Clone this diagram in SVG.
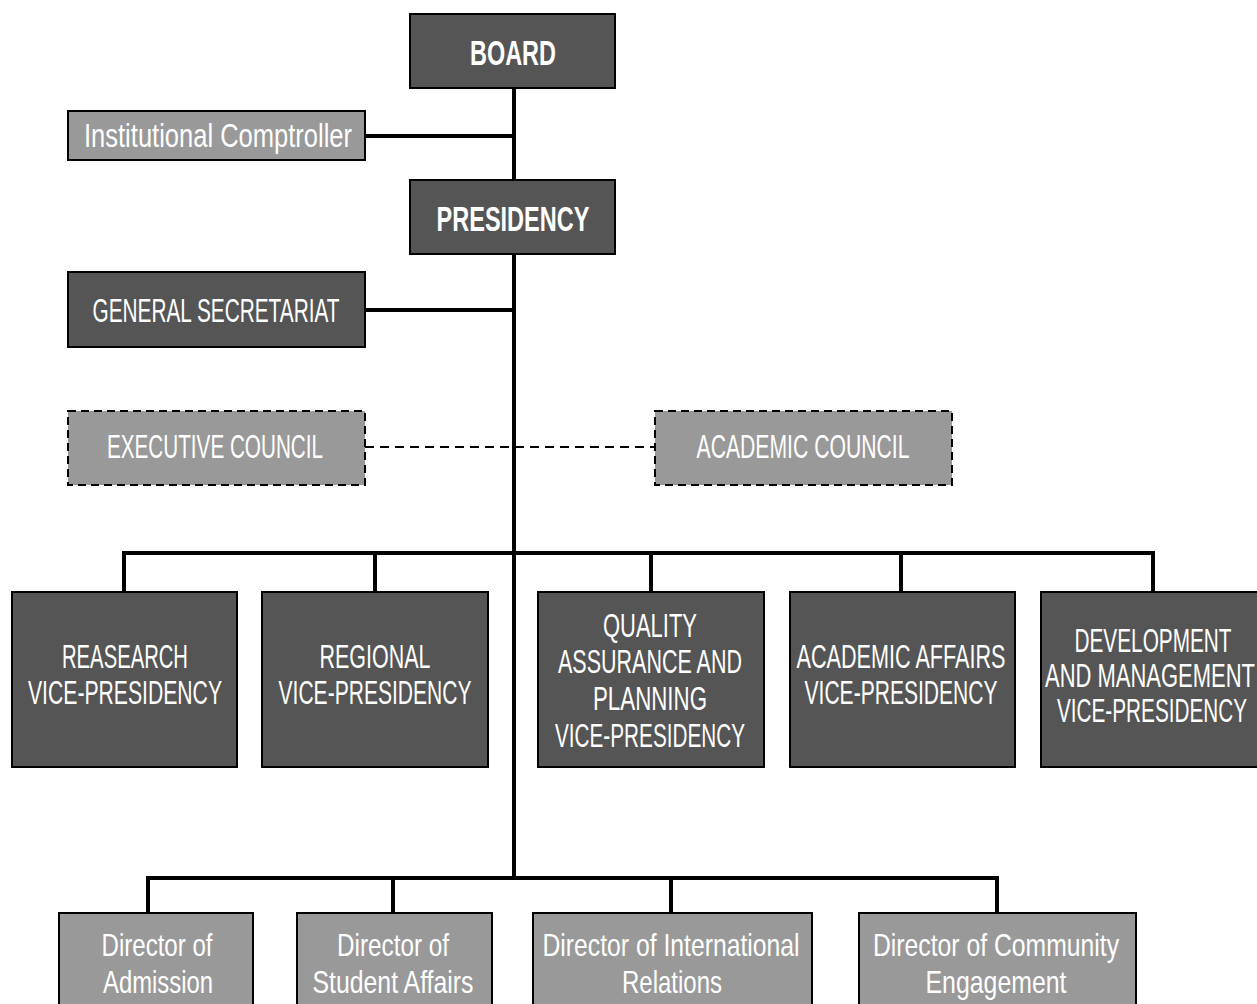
<svg xmlns="http://www.w3.org/2000/svg" width="1257" height="1004" viewBox="0 0 1257 1004">
<style>
.dark{fill:#555555;stroke:#000;stroke-width:2}
.light{fill:#999999;stroke:#000;stroke-width:2}
.dash{fill:#999999;stroke:#000;stroke-width:2;stroke-dasharray:8 5}
.t{font-family:"Liberation Sans",Arial,sans-serif;font-size:33px;fill:#fff;text-anchor:middle}
.b{font-weight:bold;font-size:35px}
.s{font-size:32px}
.ln{stroke:#000;stroke-width:4;fill:none}
.dl{stroke:#000;stroke-width:2;fill:none;stroke-dasharray:9 6}
</style>
<rect width="1257" height="1004" fill="#fff"/>
<g id="connectors">
<path class="ln" d="M514 88V878"/>
<path class="ln" d="M365 136H514"/>
<path class="ln" d="M365 310H514"/>
<path class="dl" d="M365 447H655"/>
<path class="ln" d="M124 592V553H1153V592M375 553V592M651 553V592M901 553V592"/>
<path class="ln" d="M148 913V878H997V913M393 878V913M671 878V913"/>
</g>
<g id="board"><rect class="dark" x="410" y="14" width="205" height="74"/><text class="t b" x="513" y="65" textLength="86" lengthAdjust="spacingAndGlyphs">BOARD</text></g>
<g id="comptroller"><rect class="light" x="68" y="111" width="297" height="49"/><text class="t" x="218" y="147" textLength="268" lengthAdjust="spacingAndGlyphs">Institutional Comptroller</text></g>
<g id="presidency"><rect class="dark" x="410" y="180" width="205" height="74"/><text class="t b" x="513" y="231" textLength="153" lengthAdjust="spacingAndGlyphs">PRESIDENCY</text></g>
<g id="secretariat"><rect class="dark" x="68" y="272" width="297" height="75"/><text class="t" x="216" y="322" textLength="247" lengthAdjust="spacingAndGlyphs">GENERAL SECRETARIAT</text></g>
<g id="executive"><rect class="dash" x="68" y="411" width="297" height="74"/><text class="t" x="215" y="458" textLength="216" lengthAdjust="spacingAndGlyphs">EXECUTIVE COUNCIL</text></g>
<g id="academic-council"><rect class="dash" x="655" y="411" width="297" height="74"/><text class="t" x="803" y="458" textLength="213" lengthAdjust="spacingAndGlyphs">ACADEMIC COUNCIL</text></g>
<g id="vp-research"><rect class="dark" x="12" y="592" width="225" height="175"/><text class="t" x="125" y="668" textLength="126" lengthAdjust="spacingAndGlyphs">REASEARCH</text><text class="t" x="125" y="704" textLength="194" lengthAdjust="spacingAndGlyphs">VICE-PRESIDENCY</text></g>
<g id="vp-regional"><rect class="dark" x="262" y="592" width="226" height="175"/><text class="t" x="375" y="668" textLength="111" lengthAdjust="spacingAndGlyphs">REGIONAL</text><text class="t" x="375" y="704" textLength="193" lengthAdjust="spacingAndGlyphs">VICE-PRESIDENCY</text></g>
<g id="vp-quality"><rect class="dark" x="538" y="592" width="226" height="175"/><text class="t" x="650" y="637" textLength="94" lengthAdjust="spacingAndGlyphs">QUALITY</text><text class="t" x="650" y="673" textLength="184" lengthAdjust="spacingAndGlyphs">ASSURANCE AND</text><text class="t" x="650" y="710" textLength="114" lengthAdjust="spacingAndGlyphs">PLANNING</text><text class="t" x="650" y="747" textLength="190" lengthAdjust="spacingAndGlyphs">VICE-PRESIDENCY</text></g>
<g id="vp-academic"><rect class="dark" x="790" y="592" width="225" height="175"/><text class="t" x="901" y="668" textLength="209" lengthAdjust="spacingAndGlyphs">ACADEMIC AFFAIRS</text><text class="t" x="901" y="704" textLength="193" lengthAdjust="spacingAndGlyphs">VICE-PRESIDENCY</text></g>
<g id="vp-development"><rect class="dark" x="1041" y="592" width="222" height="175"/><text class="t" x="1153" y="652" textLength="157" lengthAdjust="spacingAndGlyphs">DEVELOPMENT</text><text class="t" x="1150" y="687" textLength="210" lengthAdjust="spacingAndGlyphs">AND MANAGEMENT</text><text class="t" x="1152" y="722" textLength="190" lengthAdjust="spacingAndGlyphs">VICE-PRESIDENCY</text></g>
<g id="dir-admission"><rect class="light" x="59" y="913" width="194" height="100"/><text class="t s" x="157" y="956" textLength="111" lengthAdjust="spacingAndGlyphs">Director of</text><text class="t s" x="158" y="993" textLength="110" lengthAdjust="spacingAndGlyphs">Admission</text></g>
<g id="dir-student"><rect class="light" x="297" y="913" width="195" height="100"/><text class="t s" x="393" y="956" textLength="112" lengthAdjust="spacingAndGlyphs">Director of</text><text class="t s" x="393" y="993" textLength="161" lengthAdjust="spacingAndGlyphs">Student Affairs</text></g>
<g id="dir-international"><rect class="light" x="533" y="913" width="279" height="100"/><text class="t s" x="671" y="956" textLength="257" lengthAdjust="spacingAndGlyphs">Director of International</text><text class="t s" x="672" y="993" textLength="100" lengthAdjust="spacingAndGlyphs">Relations</text></g>
<g id="dir-community"><rect class="light" x="859" y="913" width="277" height="100"/><text class="t s" x="996" y="956" textLength="246" lengthAdjust="spacingAndGlyphs">Director of Community</text><text class="t s" x="996" y="993" textLength="141" lengthAdjust="spacingAndGlyphs">Engagement</text></g>
</svg>
